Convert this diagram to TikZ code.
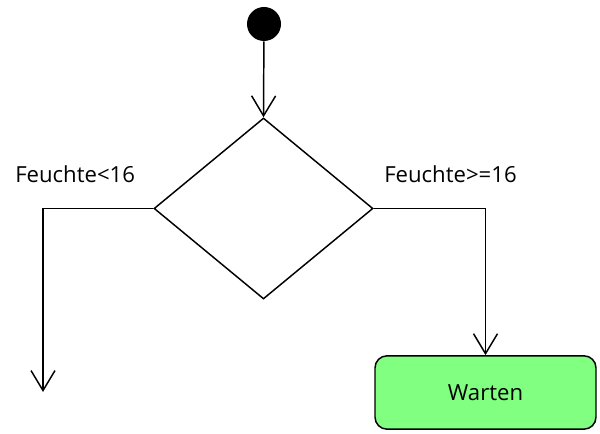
\documentclass[tikz,border=0pt]{standalone}
\usepackage{fontspec}
\setmainfont{Open Sans}
\usetikzlibrary{arrows.meta,shapes.geometric}
\definecolor{boxgreen}{HTML}{80FF80}
\tikzset{
  flow/.style={line width=1.1pt,-{Straight Barb[length=15pt,width=18pt,line width=1.1pt]}},
  lbl/.style={anchor=base west,inner sep=0pt,font=\fontsize{16.6pt}{18pt}\selectfont},
}
\begin{document}
\begin{tikzpicture}[x=0.75pt,y=-0.75pt]
\useasboundingbox (0,0) rectangle (600,434);
\node[circle,fill=black,inner sep=0pt,minimum size=25.5pt] (start) at (264,24) {};
\node[diamond,draw,line width=1.1pt,inner sep=0pt,minimum width=164.25pt,minimum height=135.75pt] (dec) at (263.5,208.5) {};
\node[draw,line width=1.1pt,fill=boxgreen,rounded corners=9pt,minimum width=165.75pt,minimum height=55pt,font=\fontsize{16.6pt}{18pt}\selectfont] (warten) at (485.5,392.5) {Warten};
\coordinate (lend) at (43,392);
\draw[flow] (start) -- (dec.north);
\draw[flow] (dec.west) -| (lend);
\draw[flow] (dec.east) -| (warten.north);
\node[lbl] (l1) at (15,183) {Feuchte<16};
\node[lbl] (l2) at (384,183) {Feuchte>=16};
\end{tikzpicture}
\end{document}
